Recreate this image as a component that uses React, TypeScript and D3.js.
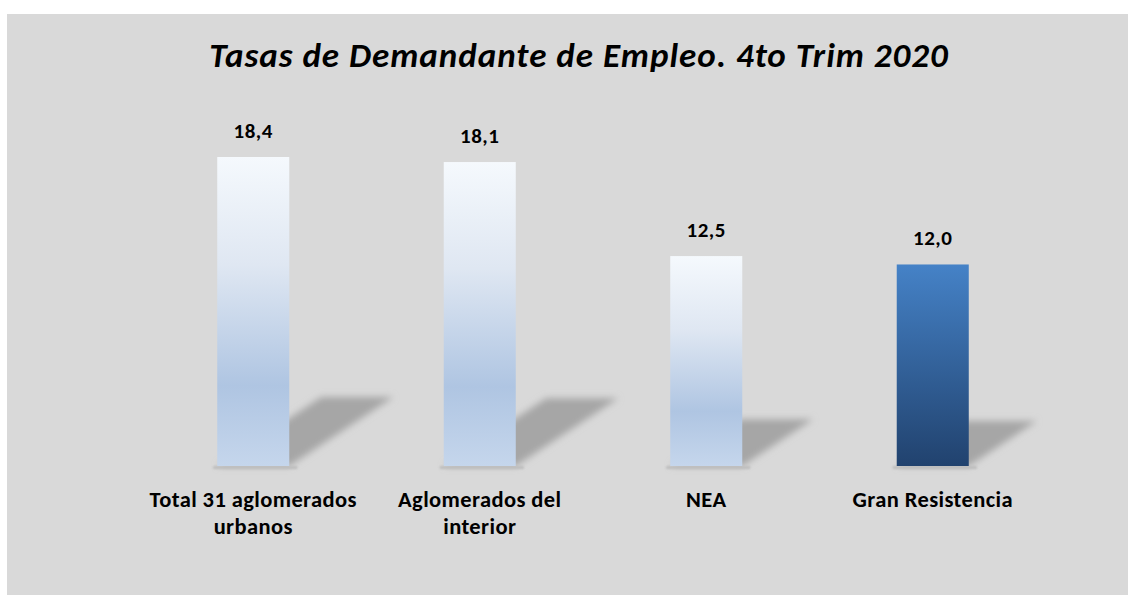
import React from "react";
import * as d3 from "d3";

const categories = ["Total 31 aglomerados urbanos", "Aglomerados del interior", "NEA", "Gran Resistencia"];
const categoryLines = [["Total 31 aglomerados", "urbanos"], ["Aglomerados del", "interior"], ["NEA"], ["Gran Resistencia"]];
const values = [18.4, 18.1, 12.5, 12.0];
const valueLabels = ["18,4", "18,1", "12,5", "12,0"];
const highlighted = ["Gran Resistencia"];
const title = "Tasas de Demandante de Empleo. 4to Trim 2020";

const W = 1135;
const H = 595;
const FONT = "Carlito, Calibri, Lato, 'Open Sans', sans-serif";

const App = () => {
  // scales
  const x = d3.scaleBand().domain(categories).range([140, 1046]).paddingInner(0.682).paddingOuter(0.341);
  const y = d3.scaleLinear().domain([0, 18.4]).range([466, 157]);
  const bw = x.bandwidth();

  return (
    <svg width={W} height={H} style={{ position: "absolute", left: 0, top: 0, display: "block" }}>
      <defs>
        <linearGradient id="lightGrad" x1="0" y1="0" x2="0" y2="1">
          <stop offset="0%" stopColor="#f5f9fd" />
          <stop offset="35%" stopColor="#dfe7f2" />
          <stop offset="74%" stopColor="#afc5e2" />
          <stop offset="100%" stopColor="#c5d6ec" />
        </linearGradient>
        <linearGradient id="darkGrad" x1="0" y1="0" x2="0" y2="1">
          <stop offset="0%" stopColor="#4582c7" />
          <stop offset="100%" stopColor="#21426e" />
        </linearGradient>
        <filter id="shadowBlur" x="-30%" y="-30%" width="160%" height="160%">
          <feGaussianBlur stdDeviation="3.5" />
        </filter>
        <filter id="baseBlur" x="-20%" y="-300%" width="140%" height="700%">
          <feGaussianBlur stdDeviation="1.2" />
        </filter>
      </defs>
      <rect x={0} y={0} width={W} height={H} fill="#ffffff" />
      <rect x={7} y={14} width={1121} height={H - 14} fill="#d9d9d9" />

      <text x={579} y={67} textAnchor="middle" fontFamily={FONT} fontWeight="bold" fontStyle="italic"
        fontSize={35} letterSpacing={1} fill="#000">{title}</text>

      {categories.map((c, i) => {
        const x0 = x(c)!;
        const h = y(0) - y(values[i]);
        const dx = h * 0.337;
        const dy = h * 0.223;
        const shadow = d3.path();
        shadow.moveTo(x0, y(0));
        shadow.lineTo(x0 + bw, y(0));
        shadow.lineTo(x0 + bw + dx, y(0) - dy);
        shadow.lineTo(x0 + dx, y(0) - dy);
        shadow.closePath();
        return (
          <g key={c}>
            <path d={shadow.toString()} fill="#a6a6a6" filter="url(#shadowBlur)" />
            <rect x={x0 - 4} y={y(0)} width={bw + 12} height={3} fill="#bdbdbd" filter="url(#baseBlur)" />
          </g>
        );
      })}

      {categories.map((c, i) => (
        <rect key={c} x={x(c)} y={y(values[i])} width={bw} height={y(0) - y(values[i])}
          fill={highlighted.includes(c) ? "url(#darkGrad)" : "url(#lightGrad)"} />
      ))}

      {categories.map((c, i) => (
        <text key={c} x={x(c)! + bw / 2} y={y(values[i]) - 19} textAnchor="middle" fontFamily={FONT}
          fontWeight="bold" fontSize={21} letterSpacing={0.5} fill="#000">{valueLabels[i]}</text>
      ))}

      {categories.map((c, i) => (
        <text key={c} x={x(c)! + bw / 2} y={507} textAnchor="middle" fontFamily={FONT}
          fontWeight="bold" fontSize={22.5} letterSpacing={0.4} fill="#000">
          {categoryLines[i].map((l, j) => (
            <tspan key={j} x={x(c)! + bw / 2} dy={j === 0 ? 0 : 27}>{l}</tspan>
          ))}
        </text>
      ))}
    </svg>
  );
};

export default App;
